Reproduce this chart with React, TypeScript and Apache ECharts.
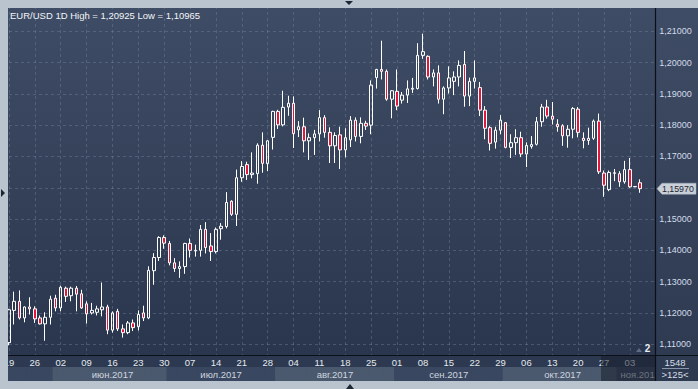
import { useEffect, useRef } from 'react';
import * as echarts from 'echarts';

// ---------- DATA ----------
// [open, close, low, high]
const mayJun: number[][] = [
  [1.1105, 1.1210, 1.10965, 1.1213], // 19 May
  [1.1208, 1.1237, 1.1163, 1.1268],
  [1.1237, 1.1184, 1.1179, 1.1272],
  [1.1184, 1.1219, 1.1170, 1.1221],
  [1.1219, 1.1213, 1.1195, 1.1250],
  [1.1213, 1.1181, 1.1168, 1.1221],
  [1.1184, 1.1165, 1.1163, 1.1192],
  [1.1165, 1.1186, 1.1111, 1.1202],
  [1.1186, 1.1244, 1.1163, 1.1255],
  [1.1247, 1.1216, 1.1205, 1.1258], // 1 Jun
  [1.1216, 1.1282, 1.1205, 1.1287],
  [1.1279, 1.1253, 1.1235, 1.1284],
  [1.1255, 1.1279, 1.1237, 1.1284],
  [1.1279, 1.1260, 1.1205, 1.1286],
  [1.1261, 1.1216, 1.1213, 1.1274],
  [1.1229, 1.1197, 1.1166, 1.1237],
  [1.1200, 1.1208, 1.1195, 1.1232],
  [1.1202, 1.1213, 1.1192, 1.1223],
  [1.1210, 1.1219, 1.1189, 1.1297],
  [1.1219, 1.1145, 1.1132, 1.1226],
  [1.1145, 1.1200, 1.1137, 1.1205],
  [1.1205, 1.1149, 1.1142, 1.1213],
  [1.1149, 1.1137, 1.1121, 1.1163],
  [1.1137, 1.1168, 1.1132, 1.1174],
  [1.1168, 1.1153, 1.1142, 1.1179],
  [1.1156, 1.1195, 1.1144, 1.1208],
  [1.1200, 1.1184, 1.1174, 1.1223],
  [1.1184, 1.1336, 1.1180, 1.1349],
  [1.1335, 1.1377, 1.1290, 1.1391],
  [1.1377, 1.1441, 1.1366, 1.1445],
  [1.1441, 1.1423, 1.1405, 1.1448],
];
const jul: number[][] = [
  [1.1422, 1.1360, 1.1352, 1.1430],
  [1.1360, 1.1342, 1.1331, 1.1375],
  [1.1342, 1.1348, 1.1312, 1.1365],
  [1.1348, 1.1422, 1.1325, 1.1424],
  [1.1422, 1.1400, 1.1377, 1.1438],
  [1.1398, 1.1400, 1.1380, 1.1418],
  [1.1400, 1.1467, 1.1380, 1.1481],
  [1.1467, 1.1409, 1.1390, 1.1490],
  [1.1414, 1.1396, 1.1366, 1.1455],
  [1.1396, 1.1467, 1.1390, 1.1473],
  [1.1469, 1.1477, 1.1434, 1.1487],
  [1.1476, 1.1553, 1.1470, 1.1586],
  [1.1557, 1.1515, 1.1510, 1.1560],
  [1.1515, 1.1632, 1.1478, 1.1658],
  [1.1632, 1.1668, 1.1619, 1.1685],
  [1.1674, 1.1642, 1.1625, 1.1683],
  [1.1642, 1.1647, 1.1630, 1.1713],
  [1.1645, 1.1736, 1.1613, 1.1742],
  [1.1736, 1.1678, 1.1648, 1.1777],
  [1.1677, 1.1750, 1.1653, 1.1752],
  [1.1761, 1.1844, 1.1722, 1.1846],
];
const aug: number[][] = [
  [1.1844, 1.1801, 1.1788, 1.1849],
  [1.1801, 1.1857, 1.1796, 1.1910],
  [1.1858, 1.1870, 1.1830, 1.1894],
  [1.1870, 1.1773, 1.1727, 1.1892],
  [1.1785, 1.1795, 1.1762, 1.1813],
  [1.1795, 1.1750, 1.1713, 1.1824],
  [1.1750, 1.1760, 1.1689, 1.1774],
  [1.1760, 1.1772, 1.1705, 1.1785],
  [1.1772, 1.1824, 1.1748, 1.1848],
  [1.1824, 1.1777, 1.1760, 1.1832],
  [1.1777, 1.1734, 1.1679, 1.1793],
  [1.1734, 1.1767, 1.1679, 1.1777],
  [1.1769, 1.1721, 1.1660, 1.1795],
  [1.1721, 1.1760, 1.1697, 1.1790],
  [1.1753, 1.1816, 1.1730, 1.1829],
  [1.1816, 1.1764, 1.1748, 1.1825],
  [1.1764, 1.1806, 1.1742, 1.1825],
  [1.1806, 1.1797, 1.1785, 1.1814],
  [1.1800, 1.1928, 1.1771, 1.1943],
  [1.1952, 1.1978, 1.1917, 1.1980],
  [1.1978, 1.1972, 1.1946, 1.2070],
  [1.1972, 1.1883, 1.1878, 1.1978],
  [1.1883, 1.1910, 1.1822, 1.1912],
];
const sep: number[][] = [
  [1.1908, 1.1861, 1.1848, 1.1978],
  [1.1880, 1.1896, 1.1869, 1.1906],
  [1.1896, 1.1916, 1.1871, 1.1943],
  [1.1915, 1.1918, 1.1903, 1.1951],
  [1.1917, 1.2023, 1.1914, 1.2062],
  [1.2023, 1.2035, 1.2012, 1.20925],
  [1.2020, 1.1954, 1.1946, 1.2023],
  [1.1954, 1.1967, 1.1924, 1.1978],
  [1.1967, 1.1883, 1.1869, 1.1991],
  [1.1883, 1.1919, 1.1835, 1.1924],
  [1.1919, 1.1951, 1.1901, 1.1988],
  [1.1940, 1.1954, 1.1896, 1.1972],
  [1.1954, 1.1991, 1.1924, 1.2007],
  [1.1994, 1.1893, 1.1859, 1.2037],
  [1.1893, 1.1940, 1.1861, 1.1952],
  [1.1940, 1.1951, 1.1917, 1.2007],
  [1.1920, 1.1848, 1.1829, 1.1938],
  [1.1848, 1.1790, 1.1755, 1.1861],
  [1.1792, 1.1742, 1.1719, 1.1797],
  [1.1746, 1.1784, 1.1725, 1.1795],
  [1.1784, 1.1816, 1.1771, 1.1832],
];
const octNov: number[][] = [
  [1.1808, 1.1729, 1.1726, 1.1810],
  [1.1729, 1.1744, 1.1695, 1.1771],
  [1.1744, 1.1760, 1.1705, 1.1787],
  [1.1760, 1.1708, 1.1698, 1.1779],
  [1.1708, 1.1735, 1.1666, 1.1745],
  [1.1732, 1.1738, 1.1725, 1.1765],
  [1.1739, 1.1811, 1.1735, 1.1826],
  [1.1811, 1.1858, 1.1795, 1.1868],
  [1.1858, 1.1829, 1.1821, 1.1881],
  [1.1829, 1.1819, 1.1802, 1.1874],
  [1.1803, 1.1795, 1.1779, 1.1819],
  [1.1798, 1.1766, 1.1734, 1.1803],
  [1.1766, 1.1787, 1.1728, 1.1800],
  [1.1787, 1.1853, 1.1758, 1.1858],
  [1.1851, 1.1777, 1.1761, 1.1858],
  [1.1758, 1.1751, 1.1726, 1.1777],
  [1.1751, 1.1758, 1.1737, 1.1792],
  [1.1758, 1.1813, 1.1753, 1.1818],
  [1.1813, 1.1651, 1.1644, 1.1837],
  [1.1647, 1.1608, 1.1571, 1.1655],
  [1.1594, 1.1649, 1.1589, 1.1655],
  [1.1646, 1.1648, 1.1621, 1.1660],
  [1.1645, 1.1619, 1.1603, 1.1653],
  [1.1619, 1.1658, 1.1613, 1.1686],
  [1.1658, 1.1603, 1.1600, 1.1695],
  [1.1603, 1.1604, 1.1602, 1.1605],
  [1.1616, 1.1597, 1.1584, 1.1627], // 7 Nov
];

const monthNames = ['янв', 'фев', 'мар', 'апр', 'май', 'июн', 'июл', 'авг', 'сен', 'окт', 'ноя', 'дек'];
const symbol = 'EUR/USD';
const period = '1D';
const barsVisible = 1548;
const zoomLabel = '>125<';
const scaleBadge = '2';

// trading days (weekdays) of the visible window, incl. empty slots at the right
function tradingDays(from: string, to: string): string[] {
  const out: string[] = [];
  const d = new Date(from + 'T00:00:00Z');
  const end = new Date(to + 'T00:00:00Z');
  while (d <= end) {
    const wd = d.getUTCDay();
    if (wd !== 0 && wd !== 6) out.push(d.toISOString().slice(0, 10));
    d.setUTCDate(d.getUTCDate() + 1);
  }
  return out;
}
const dates = tradingDays('2017-05-19', '2017-11-10');
const candles = [...mayJun, ...jul, ...aug, ...sep, ...octNov];

// ---------- LAYOUT / STYLE ----------
const W = 698;
const H = 389;
const STEP = 5.174;
const FIRST_X = 9;
const PLOT_L = 8, PLOT_T = 8, PLOT_R = 655, PLOT_B = 355, STRIP_B = 381;
const FONT = 'Arial, "Liberation Sans", sans-serif';
const FRAME = '#bac4ce';

const fmt = (v: number) => v.toFixed(5).replace('.', ',');
const isFriday = (d: string) => new Date(d + 'T00:00:00Z').getUTCDay() === 5;

function buildOption(tagY: number | null): any {
  const N = dates.length;
  const hi = Math.max(...candles.map((c) => c[3]));
  const lo = Math.min(...candles.map((c) => c[2]));
  const last = candles[candles.length - 1][1];

  const spans = new Map<string, [number, number]>();
  dates.forEach((d, i) => {
    const k = d.slice(0, 7);
    const s = spans.get(k);
    if (!s) spans.set(k, [i, i]);
    else s[1] = i;
  });
  const monthLabelIdx = new Set<number>();
  spans.forEach(([a, b]) => {
    if (a > 0) monthLabelIdx.add(Math.round((a + b) / 2));
  });

  const dash = { color: 'rgba(125,140,165,0.38)', type: [3, 3], width: 1 };
  const hidden = { axisLine: { show: false }, axisTick: { show: false } };

  const grad = (top: string, bot: string) => ({
    type: 'linear', x: 0, y: 0, x2: 0, y2: 1,
    colorStops: [{ offset: 0, color: top }, { offset: 1, color: bot }],
  });

  const graphics: any[] = [
    { type: 'rect', z: -10, silent: true, shape: { x: PLOT_L, y: PLOT_T, width: PLOT_R - PLOT_L, height: PLOT_B - PLOT_T }, style: { fill: grad('#3f4c65', '#29364d') } },
    { type: 'rect', z: 1, silent: true, shape: { x: PLOT_L, y: 367, width: PLOT_R - PLOT_L, height: STRIP_B - 367 }, style: { fill: '#3a4760' } },
    { type: 'rect', z: 3, silent: true, shape: { x: PLOT_L, y: PLOT_B, width: PLOT_R - PLOT_L, height: 12 }, style: { fill: '#2c3950' } },
    { type: 'rect', z: 5, silent: true, shape: { x: 601, y: PLOT_B, width: PLOT_R - 601, height: STRIP_B - PLOT_B }, style: { fill: 'rgba(24,31,44,0.55)' } },
    { type: 'rect', z: 5, silent: true, shape: { x: PLOT_R, y: PLOT_T, width: W - PLOT_R, height: STRIP_B - PLOT_T }, style: { fill: grad('#3f4c65', '#2c394f') } },
    // frame
    { type: 'rect', z: 5, silent: true, shape: { x: 0, y: 0, width: W, height: PLOT_T }, style: { fill: FRAME } },
    { type: 'rect', z: 5, silent: true, shape: { x: 0, y: 0, width: PLOT_L, height: H }, style: { fill: FRAME } },
    { type: 'rect', z: 5, silent: true, shape: { x: 0, y: STRIP_B, width: W, height: H - STRIP_B }, style: { fill: FRAME } },
    // separators
    { type: 'line', z: 7, silent: true, shape: { x1: PLOT_L, y1: PLOT_B + 0.5, x2: W, y2: PLOT_B + 0.5 }, style: { stroke: '#0b0f16', lineWidth: 1.2 } },
    { type: 'line', z: 7, silent: true, shape: { x1: PLOT_R + 0.5, y1: PLOT_T, x2: PLOT_R + 0.5, y2: STRIP_B }, style: { stroke: '#0b0f16', lineWidth: 1.2 } },
    // scroll markers on the frame
    { type: 'polygon', z: 7, silent: true, shape: { points: [[345, 1], [353, 1], [349, 5]] }, style: { fill: '#1c2533' } },
    { type: 'polygon', z: 7, silent: true, shape: { points: [[346, 389], [354, 389], [350, 384]] }, style: { fill: '#1c2533' } },
    { type: 'polygon', z: 7, silent: true, shape: { points: [[1, 189], [1, 197], [5, 193]] }, style: { fill: '#1c2533' } },
    // title
    {
      type: 'text', z: 7, silent: true, x: 10, y: 15,
      style: {
        text: `${symbol} ${period} High = ${fmt(hi)} Low = ${fmt(lo)}`,
        fill: '#f2f5f8', font: `9.5px ${FONT}`, textVerticalAlign: 'middle',
      },
    },
    // scale badge
    { type: 'polygon', z: 7, silent: true, shape: { points: [[636, 352], [642, 352], [639, 348]] }, style: { fill: 'rgba(130,145,170,0.6)' } },
    { type: 'text', z: 7, silent: true, x: 647.5, y: 348, style: { text: scaleBadge, fill: '#e8edf3', font: `bold 10px ${FONT}`, textAlign: 'center', textVerticalAlign: 'middle' } },
    // bottom-right box
    { type: 'text', z: 7, silent: true, x: 675, y: 362, style: { text: String(barsVisible), fill: '#d6dde6', font: `9.5px ${FONT}`, textAlign: 'center', textVerticalAlign: 'middle' } },
    { type: 'line', z: 7, silent: true, shape: { x1: 662, y1: 368.5, x2: 689, y2: 368.5 }, style: { stroke: '#8995a8', lineWidth: 1 } },
    { type: 'text', z: 7, silent: true, x: 675, y: 374.5, style: { text: zoomLabel, fill: '#d6dde6', font: `9.5px ${FONT}`, textAlign: 'center', textVerticalAlign: 'middle' } },
  ];

  if (tagY != null) {
    graphics.push(
      { type: 'polygon', z: 7, silent: true, shape: { points: [[657, tagY], [662, tagY - 5.5], [696, tagY - 5.5], [696, tagY + 5.5], [662, tagY + 5.5]] }, style: { fill: '#c9d0d8', stroke: '#aab3be', lineWidth: 0.5 } },
      { type: 'text', z: 8, silent: true, x: 662, y: tagY + 0.5, style: { text: fmt(last), fill: '#1d2531', font: `8.8px ${FONT}`, textVerticalAlign: 'middle' } },
    );
  }

  return {
    animation: false,
    backgroundColor: 'transparent',
    grid: [
      { left: FIRST_X, top: -2.5, width: STEP * (N - 1), height: 378 },
      { left: FIRST_X - STEP / 2, top: PLOT_B, width: STEP * N, height: 12 },
      { left: FIRST_X - STEP / 2, top: 367, width: STEP * N, height: STRIP_B - 367 },
    ],
    xAxis: [
      {
        gridIndex: 0, type: 'category', data: dates, boundaryGap: false, ...hidden,
        axisLabel: { show: false },
        splitLine: { show: true, interval: (i: number, v: string) => isFriday(v), lineStyle: dash },
      },
      {
        gridIndex: 1, type: 'category', data: dates, boundaryGap: true, position: 'bottom', z: 4, ...hidden,
        splitLine: { show: false },
        axisLabel: {
          inside: true, margin: 4.5, verticalAlign: 'middle',
          interval: (i: number, v: string) => i < candles.length && isFriday(v),
          formatter: (v: string) => v.slice(8, 10),
          color: '#e4e9ef', fontSize: 9.5, fontFamily: FONT,
        },
      },
      {
        gridIndex: 2, type: 'category', data: dates, boundaryGap: true, position: 'bottom', z: 4, ...hidden,
        splitLine: { show: false },
        axisLabel: {
          inside: true, margin: 7, verticalAlign: 'middle',
          interval: (i: number) => monthLabelIdx.has(i),
          formatter: (v: string) => `${monthNames[Number(v.slice(5, 7)) - 1]}.${v.slice(0, 4)}`,
          color: '#cfd6df', fontSize: 9.5, fontFamily: FONT,
        },
      },
    ],
    yAxis: [
      {
        gridIndex: 0, type: 'value', min: 1.10, max: 1.22, interval: 0.01, position: 'left', ...hidden,
        axisLabel: { show: false },
        splitLine: { show: true, lineStyle: dash },
      },
      {
        gridIndex: 0, type: 'value', min: 1.10, max: 1.22, interval: 0.01, position: 'right', z: 6, ...hidden,
        splitLine: { show: false },
        axisLabel: {
          margin: 3.5, color: '#d2dcea', fontSize: 9, fontFamily: FONT,
          // labels outside the visible range, or hidden under the last-price tag, are left blank
          formatter: (v: number) => (v > 1.105 && v < 1.215 && Math.abs(v - last) > 0.005 ? fmt(v) : ''),
        },
      },
      { gridIndex: 1, type: 'value', show: false },
      { gridIndex: 2, type: 'value', min: 0, max: 1, show: false },
    ],
    series: [
      {
        type: 'candlestick', xAxisIndex: 0, yAxisIndex: 0, data: candles, barWidth: 3, silent: true,
        itemStyle: { color: 'rgba(0,0,0,0)', color0: '#e3163c', borderColor: '#ffffff', borderColor0: '#ffffff', borderWidth: 1 },
      },
      {
        type: 'bar', xAxisIndex: 2, yAxisIndex: 3, z: 3, silent: true, barWidth: STEP + 0.8, barGap: '-100%',
        data: dates.map((d) => ({
          value: 1,
          itemStyle: { color: Number(d.slice(5, 7)) % 2 === 0 ? '#4b596f' : '#3a4760' },
        })),
      },
    ],
    graphic: { elements: graphics },
  };
}

export default function App() {
  const ref = useRef<HTMLDivElement>(null);
  useEffect(() => {
    if (!ref.current) return;
    const chart = echarts.init(ref.current, undefined, { renderer: 'svg', width: W, height: H });
    chart.setOption(buildOption(null));
    const last = candles[candles.length - 1][1];
    const y = chart.convertToPixel({ yAxisIndex: 0 }, last) as unknown as number;
    chart.setOption(buildOption(y), { notMerge: true });
    return () => chart.dispose();
  }, []);
  return (
    <div
      ref={ref}
      style={{ position: 'fixed', left: 0, top: 0, width: W, height: H, background: FRAME }}
    />
  );
}
